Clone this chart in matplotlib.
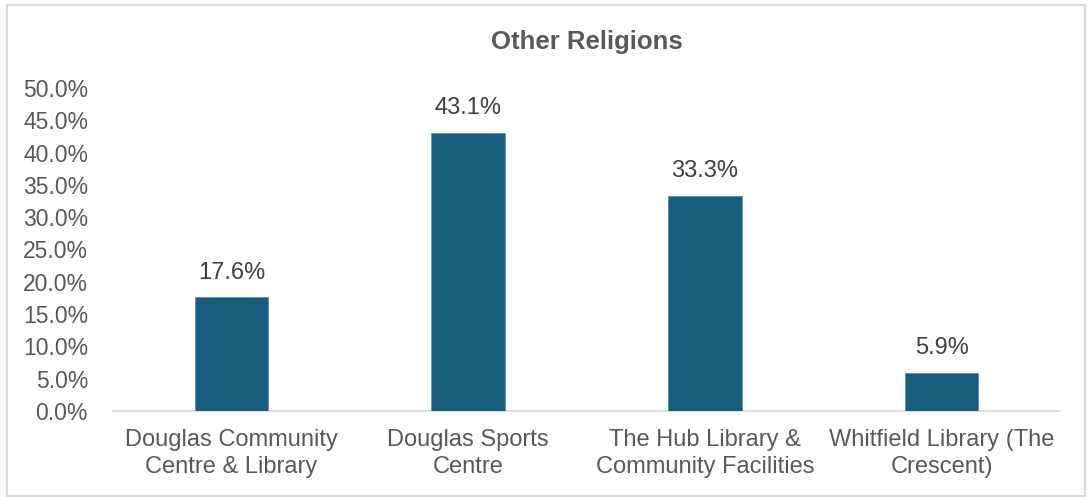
import matplotlib
matplotlib.use("Agg")
import matplotlib.pyplot as plt
from matplotlib.patches import Rectangle

categories = ["Douglas Community\nCentre & Library", "Douglas Sports\nCentre",
              "The Hub Library &\nCommunity Facilities", "Whitfield Library (The\nCrescent)"]
values = [17.6, 43.1, 33.3, 5.9]
yticks = [0, 5, 10, 15, 20, 25, 30, 35, 40, 45, 50]
title = "Other Religions"

plt.rcParams['font.family'] = ['Liberation Sans', 'DejaVu Sans']
W, H = 1091, 497
fig = plt.figure(figsize=(W/100, H/100), dpi=100)
fig.patches.append(Rectangle((7/W, 1-496/H), (1085-7)/W, (496-5)/H, transform=fig.transFigure,
                             fill=False, edgecolor='#d9d9d9', linewidth=1.5))
ax = fig.add_axes([113/W, 1-411/H, (1060-113)/W, (411-88)/H])
grey = '#595959'
x = range(len(categories))
ax.bar(x, values, width=0.31, color='#175E7E', edgecolor='#5B8FAA', linewidth=0.6, zorder=3)
for xi, v in zip(x, values):
    ax.text(xi, v + 2.1, f"{v:.1f}%", ha='center', va='bottom', fontsize=17, color='#404040')
ax.set_xlim(-0.5, len(categories) - 0.5)
ax.set_ylim(0, 50)
ax.set_yticks(yticks)
ax.set_yticklabels([f"{t:.1f}%" for t in yticks])
ax.set_xticks(list(x))
ax.set_xticklabels(categories, fontsize=17, linespacing=1.3)
ax.tick_params(axis='y', length=0, labelsize=16.5, colors=grey, pad=18)
ax.tick_params(axis='x', length=0, colors=grey, pad=13)
for s in ['top', 'right', 'left']:
    ax.spines[s].set_visible(False)
ax.spines['bottom'].set_color('#d9d9d9')
ax.spines['bottom'].set_linewidth(1.2)
fig.text((113+1060)/2/W, 1-42/H, title, ha='center', va='center', fontsize=18.5,
         fontweight='bold', color=grey)
fig.savefig("out.png", dpi=100)
